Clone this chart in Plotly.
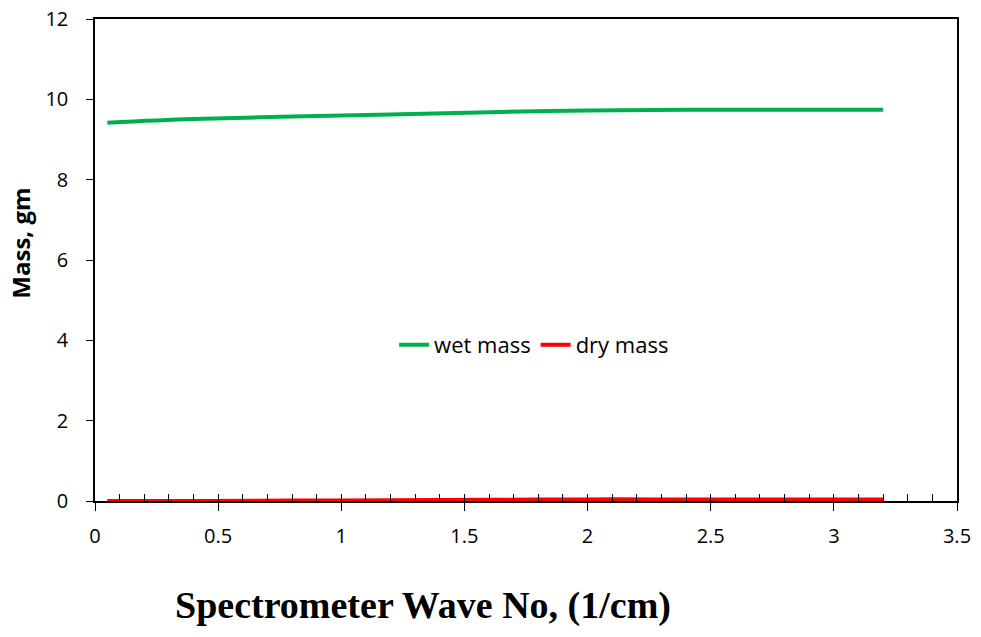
import plotly.graph_objects as go

x_wave = [0.05, 0.4, 0.8, 1.2, 1.6, 2.0, 2.4, 2.8, 3.2]
wet_mass = [9.42, 9.51, 9.57, 9.62, 9.68, 9.72, 9.74, 9.74, 9.74]
dry_mass = [0.0, 0.0, 0.01, 0.02, 0.03, 0.04, 0.04, 0.04, 0.04]

x_ticks = [0, 0.5, 1, 1.5, 2, 2.5, 3, 3.5]
x_tick_labels = ["0", "0.5", "1", "1.5", "2", "2.5", "3", "3.5"]
y_ticks = [0, 2, 4, 6, 8, 10, 12]

fig = go.Figure()
fig.add_trace(go.Scatter(x=x_wave, y=wet_mass, mode="lines", name="wet mass",
                         line=dict(color="#00B050", width=4, shape="spline")))
fig.add_trace(go.Scatter(x=x_wave, y=dry_mass, mode="lines", name="dry mass",
                         line=dict(color="#FF0000", width=4, shape="spline")))

font_fam = "Open Sans, Noto Sans, sans-serif"
fig.update_layout(
    width=981, height=637,
    margin=dict(l=95, r=24, t=19, b=136, autoexpand=False),
    paper_bgcolor="white", plot_bgcolor="white",
    showlegend=True,
    legend=dict(orientation="h", x=0.347, y=0.324, xanchor="left", yanchor="middle",
                bgcolor="rgba(0,0,0,0)", font=dict(family=font_fam, size=22, color="black"),
                tracegroupgap=0),
    font=dict(family=font_fam, size=20, color="black"),
    xaxis=dict(range=[0, 3.5], tickvals=x_ticks, ticktext=x_tick_labels,
               ticks="outside", ticklen=8, tickcolor="black", tickwidth=1,
               ticklabelstandoff=8, automargin=False, ticklabeloverflow="allow",
               showline=True, linecolor="black", linewidth=1.5, mirror=True,
               showgrid=False, zeroline=False,
               tickfont=dict(family=font_fam, size=20, color="black")),
    xaxis2=dict(range=[0, 3.5], overlaying="x", side="bottom", anchor="y",
                dtick=0.1, tick0=0, ticks="inside", ticklen=7, tickcolor="black",
                tickwidth=1, showticklabels=False, showgrid=False, zeroline=False,
                showline=False, automargin=False),
    yaxis=dict(range=[0, 12], tickvals=y_ticks, ticks="outside", ticklen=7,
               tickcolor="black", tickwidth=1, ticklabelstandoff=14, automargin=False,
               ticklabeloverflow="allow",
               showline=True, linecolor="black", linewidth=1.5, mirror=True,
               showgrid=False, zeroline=False,
               tickfont=dict(family=font_fam, size=20, color="black")),
    annotations=[
        dict(text="<b>Spectrometer Wave No, (1/cm)</b>", xref="paper", yref="paper",
             x=0.38, y=-0.216, xanchor="center", yanchor="middle", showarrow=False,
             font=dict(family="Liberation Serif, Times New Roman, serif", size=38,
                       color="black")),
        dict(text="<b>Mass, gm</b>", xref="paper", yref="paper",
             x=-0.0858, y=0.534, xanchor="center", yanchor="middle", showarrow=False,
             textangle=-90,
             font=dict(family=font_fam, size=24, color="black")),
    ],
)
# invisible trace to activate xaxis2 for minor ticks
fig.add_trace(go.Scatter(x=[0, 3.5], y=[0, 0], xaxis="x2", mode="lines",
                         line=dict(width=0), showlegend=False, hoverinfo="skip"))

fig.write_html("out.html", config={"displayModeBar": False},
               post_script="document.body.style.margin='0';document.body.style.overflow='hidden';")
